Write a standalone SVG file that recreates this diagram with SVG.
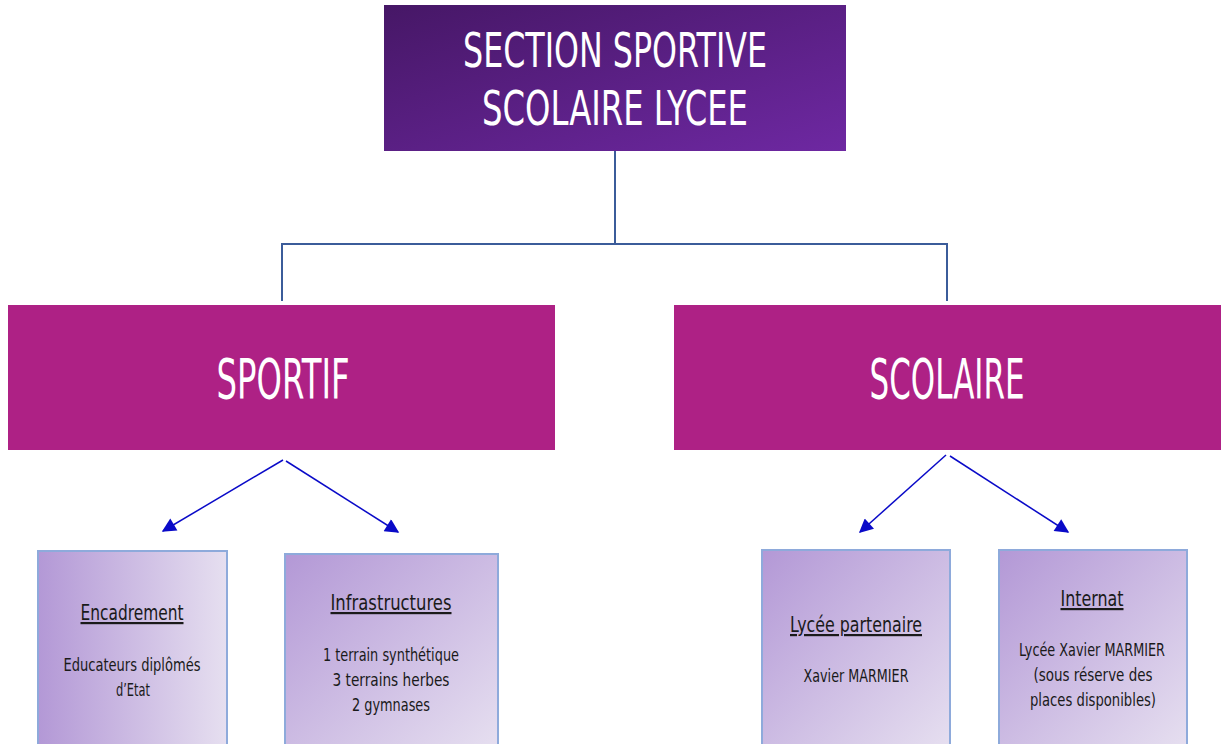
<svg xmlns="http://www.w3.org/2000/svg" width="1223" height="744" viewBox="0 0 1223 744">
<defs>
<linearGradient id="gTop" x1="0" y1="0" x2="1" y2="1">
<stop offset="0" stop-color="#461766"/>
<stop offset="1" stop-color="#6e28a2"/>
</linearGradient>
<linearGradient id="gLeaf" x1="0" y1="0" x2="1" y2="1">
<stop offset="0" stop-color="#b398d6"/>
<stop offset="1" stop-color="#e6dff0"/>
</linearGradient>
<linearGradient id="gLeafH" x1="0" y1="0" x2="1" y2="0">
<stop offset="0" stop-color="#b398d6"/>
<stop offset="1" stop-color="#e6dff0"/>
</linearGradient>
<marker id="ahb" viewBox="0 0 10 10" refX="9" refY="5" markerWidth="16" markerHeight="14" markerUnits="userSpaceOnUse" orient="auto">
<path d="M0,0 L10,5 L0,10 Z" fill="#0a0ac8"/>
</marker>
</defs>
<style>
.t{font-family:"DejaVu Sans Condensed","Liberation Sans Narrow","Liberation Sans",sans-serif;text-anchor:middle}
.big{fill:#ffffff;font-size:56px}
.ttl{fill:#ffffff;font-size:48px}
.hd{fill:#1a1a1a;font-size:22px;text-decoration:underline}
.bd{fill:#1a1a1a;font-size:18px}
.leaf{stroke:#8eaadb;stroke-width:2}
.tree{fill:none;stroke:#3b5c9a;stroke-width:2}
.arr{fill:none;stroke:#0a0ac8;stroke-width:1.5;marker-end:url(#ahb)}
</style>
<rect width="1223" height="744" fill="#ffffff"/>
<g id="connectors">
<path class="tree" d="M615,151 V244 M282,244 H947 M282,243 V301 M947,243 V301"/>
<line class="arr" x1="283" y1="460" x2="163" y2="531"/>
<line class="arr" x1="286" y1="461" x2="398" y2="532"/>
<line class="arr" x1="946" y1="455" x2="860" y2="532"/>
<line class="arr" x1="950" y1="456" x2="1068" y2="532"/>
</g>
<g id="top">
<rect x="384" y="5" width="462" height="146" fill="url(#gTop)"/>
<text class="t ttl" x="615" y="67" textLength="304" lengthAdjust="spacingAndGlyphs">SECTION SPORTIVE</text>
<text class="t ttl" x="615" y="125" textLength="266" lengthAdjust="spacingAndGlyphs">SCOLAIRE LYCEE</text>
</g>
<g id="sportif">
<rect x="8" y="305" width="547" height="145" fill="#ae2185"/>
<text class="t big" x="283" y="398" textLength="133" lengthAdjust="spacingAndGlyphs">SPORTIF</text>
</g>
<g id="scolaire">
<rect x="674" y="305" width="547" height="145" fill="#ae2185"/>
<text class="t big" x="947" y="398" textLength="155" lengthAdjust="spacingAndGlyphs">SCOLAIRE</text>
</g>
<g id="encadrement">
<rect class="leaf" x="38" y="551" width="189" height="196" fill="url(#gLeafH)"/>
<text class="t hd" x="132" y="620" textLength="103" lengthAdjust="spacingAndGlyphs">Encadrement</text>
<text class="t bd" x="132" y="671" textLength="137" lengthAdjust="spacingAndGlyphs">Educateurs diplômés</text>
<text class="t bd" x="133" y="696" textLength="34" lengthAdjust="spacingAndGlyphs">d’Etat</text>
</g>
<g id="infrastructures">
<rect class="leaf" x="285" y="554" width="213" height="193" fill="url(#gLeaf)"/>
<text class="t hd" x="391" y="610" textLength="121" lengthAdjust="spacingAndGlyphs">Infrastructures</text>
<text class="t bd" x="391" y="661" textLength="136" lengthAdjust="spacingAndGlyphs">1 terrain synthétique</text>
<text class="t bd" x="391" y="686" textLength="117" lengthAdjust="spacingAndGlyphs">3 terrains herbes</text>
<text class="t bd" x="391" y="711" textLength="78" lengthAdjust="spacingAndGlyphs">2 gymnases</text>
</g>
<g id="lycee">
<rect class="leaf" x="762" y="550" width="188" height="197" fill="url(#gLeaf)"/>
<text class="t hd" x="856" y="632" textLength="132" lengthAdjust="spacingAndGlyphs">Lycée partenaire</text>
<text class="t bd" x="856" y="682" textLength="105" lengthAdjust="spacingAndGlyphs">Xavier MARMIER</text>
</g>
<g id="internat">
<rect class="leaf" x="999" y="550" width="188" height="197" fill="url(#gLeaf)"/>
<text class="t hd" x="1092" y="606" textLength="63" lengthAdjust="spacingAndGlyphs">Internat</text>
<text class="t bd" x="1092" y="656" textLength="146" lengthAdjust="spacingAndGlyphs">Lycée Xavier MARMIER</text>
<text class="t bd" x="1093" y="681" textLength="119" lengthAdjust="spacingAndGlyphs">(sous réserve des</text>
<text class="t bd" x="1093" y="706" textLength="126" lengthAdjust="spacingAndGlyphs">places disponibles)</text>
</g>
</svg>
